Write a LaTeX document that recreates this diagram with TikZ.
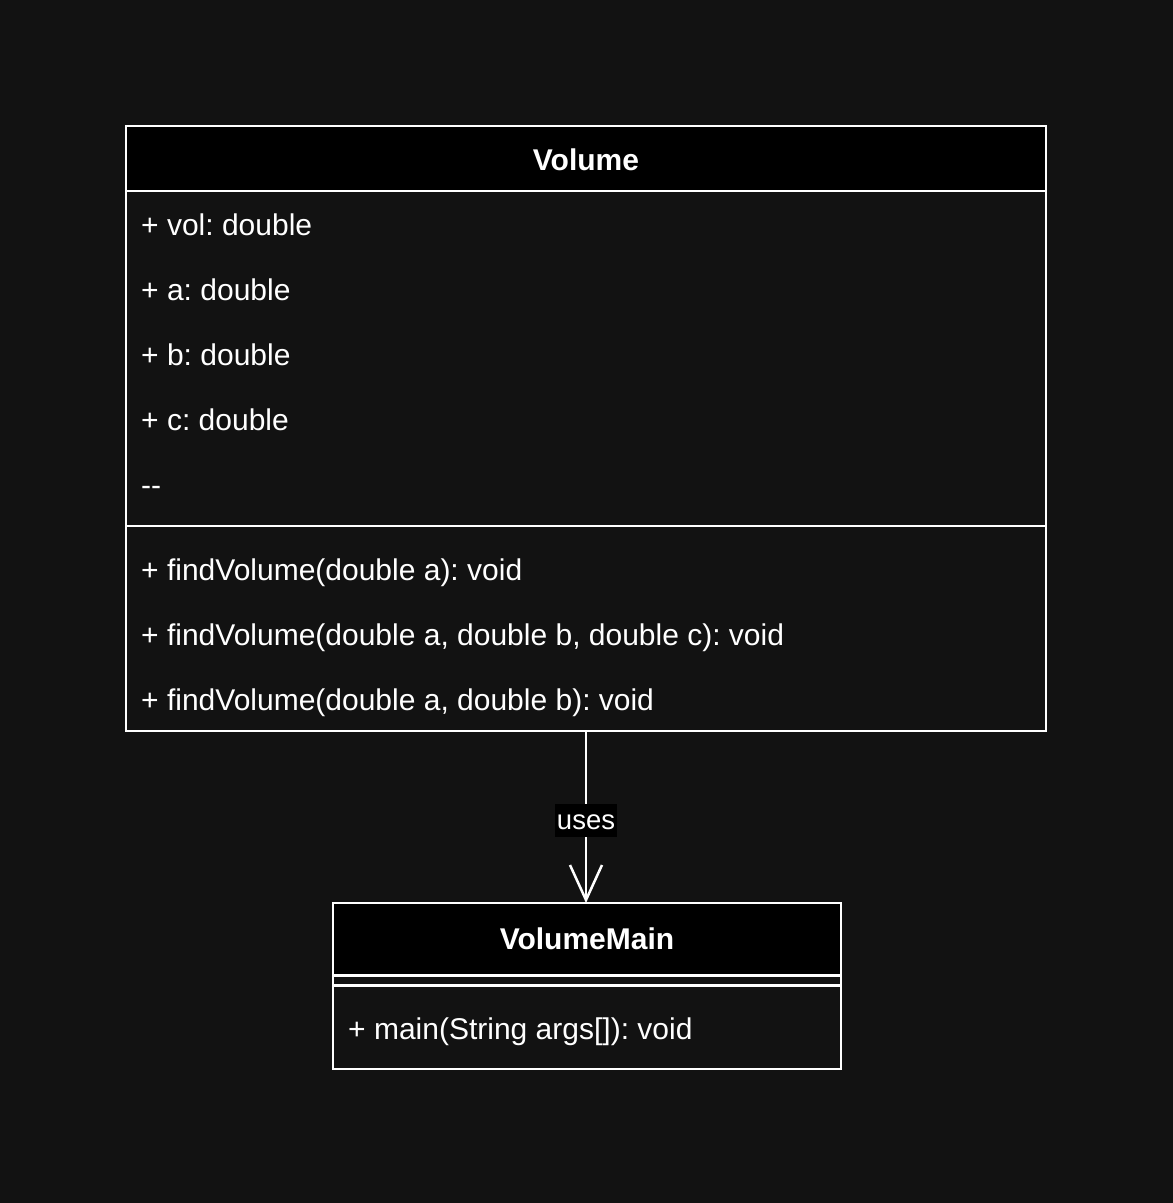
\documentclass[tikz,border=0pt]{standalone}
\usepackage{fontspec}
\setmainfont{Liberation Sans}
\usetikzlibrary{arrows.meta}
\definecolor{bg}{HTML}{121212}
\definecolor{fg}{HTML}{FFFFFF}
\frenchspacing
\begin{document}
\begin{tikzpicture}[x=1pt,y=-1pt,
  box/.style={draw=fg, line width=2.5pt, inner sep=0pt, outer sep=0pt, anchor=north west},
  rowtext/.style={font=\fontsize{30}{36}\selectfont, text=fg, anchor=west, inner sep=0pt, text height=27.15pt, text depth=6.36pt, yshift=-1.5pt},
  titletext/.style={font=\fontsize{30}{36}\selectfont\bfseries, text=fg, anchor=center, inner sep=0pt, text height=27.15pt, text depth=6.36pt},
  lbl/.style={font=\fontsize{27.5}{33}\selectfont, text=fg, fill=black, inner xsep=2pt, inner ysep=1.5pt, text height=24.9pt, text depth=5.83pt},
  conn/.style={draw=fg, line width=2.5pt, -{Straight Barb[length=35pt,width=32pt]}}
]
\useasboundingbox (0,0) rectangle (1173,1203);
\fill[bg] (0,0) rectangle (1173,1203);

% Volume class
\node[box, fill=bg, minimum width=920pt, minimum height=605pt] (vol) at (126,126) {};
\node[box, fill=black, minimum width=920pt, minimum height=65pt] (volhead) at (126,126) {};
\node[box, minimum width=920pt, minimum height=335pt] (volattr) at (126,191) {};
\node[titletext, yshift=-1.5pt] (voltitle) at (volhead.center) {Volume};
\node[rowtext] (a1) at (141,223.5) {+ vol: double};
\node[rowtext] (a2) at (141,288.5) {+ a: double};
\node[rowtext] (a3) at (141,353.5) {+ b: double};
\node[rowtext] (a4) at (141,418.5) {+ c: double};
\node[rowtext] (a5) at (141,483.5) {-{}-};
\node[rowtext] (m1) at (141,568.5) {+ findVolume(double a): void};
\node[rowtext] (m2) at (141,633.5) {+ findVolume(double a, double b, double c): void};
\node[rowtext] (m3) at (141,698.5) {+ findVolume(double a, double b): void};

% VolumeMain class
\node[box, fill=bg, minimum width=508pt, minimum height=166pt] (vmain) at (333,903) {};
\node[box, fill=black, minimum width=508pt, minimum height=72.5pt] (vmhead) at (333,903) {};
\node[box, minimum width=508pt, minimum height=83.5pt] (vmmeth) at (333,985.5) {};
\node[titletext] (vmtitle) at (vmhead.center) {VolumeMain};
\node[rowtext] (vm1) at (348,1028) {+ main(String args[]): void};

% connector
\draw[conn] (vol.south) -- node[lbl, pos=0.52] {uses} (vol.south |- vmain.north);
\end{tikzpicture}
\end{document}
